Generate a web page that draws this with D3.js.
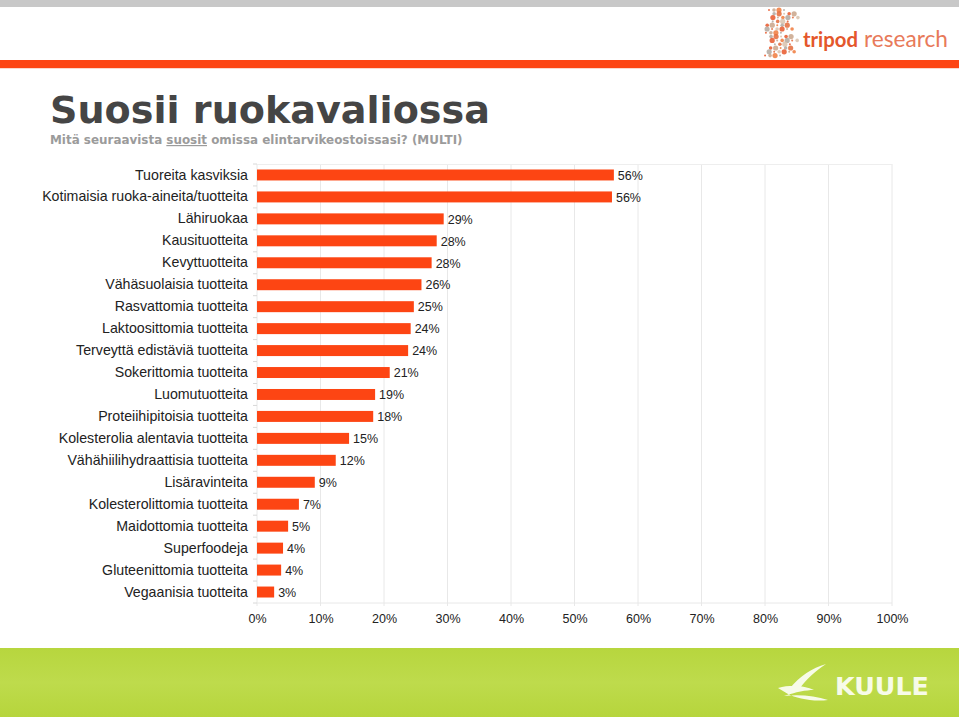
<!DOCTYPE html>
<html>
<head>
<meta charset="utf-8">
<script src="https://cdn.jsdelivr.net/npm/d3@7"></script>
<style>
  html, body { margin: 0; padding: 0; background: #fff; }
  svg { display: block; }
</style>
</head>
<body>
<svg id="chart" width="959" height="719"></svg>
<script>
const categories = [
  "Tuoreita kasviksia",
  "Kotimaisia ruoka-aineita/tuotteita",
  "Lähiruokaa",
  "Kausituotteita",
  "Kevyttuotteita",
  "Vähäsuolaisia tuotteita",
  "Rasvattomia tuotteita",
  "Laktoosittomia tuotteita",
  "Terveyttä edistäviä tuotteita",
  "Sokerittomia tuotteita",
  "Luomutuotteita",
  "Proteiihipitoisia tuotteita",
  "Kolesterolia alentavia tuotteita",
  "Vähähiilihydraattisia tuotteita",
  "Lisäravinteita",
  "Kolesterolittomia tuotteita",
  "Maidottomia tuotteita",
  "Superfoodeja",
  "Gluteenittomia tuotteita",
  "Vegaanisia tuotteita"
];
const values = [56.2, 55.9, 29.4, 28.3, 27.5, 25.9, 24.7, 24.2, 23.8, 20.9, 18.6, 18.3, 14.5, 12.4, 9.1, 6.6, 4.9, 4.1, 3.8, 2.7];
const valueLabels = ["56%", "56%", "29%", "28%", "28%", "26%", "25%", "24%", "24%", "21%", "19%", "18%", "15%", "12%", "9%", "7%", "5%", "4%", "4%", "3%"];
const xTicks = [0, 10, 20, 30, 40, 50, 60, 70, 80, 90, 100];

const svg = d3.select("#chart");
const W = 959, H = 719;

// scale a text's font size so its width matches a target
function fitWidth(sel, target) {
  const node = sel.node();
  const fs = parseFloat(sel.attr("font-size"));
  const w = node.getComputedTextLength();
  if (w > 0) sel.attr("font-size", (fs * target / w).toFixed(2));
  return sel;
}

// ---------- header ----------
svg.append("rect").attr("x", 0).attr("y", 0).attr("width", W).attr("height", 7).attr("fill", "#c8c8c8");
svg.append("rect").attr("x", 0).attr("y", 60).attr("width", W).attr("height", 8).attr("fill", "#fd4513");
svg.append("rect").attr("x", 0).attr("y", 68).attr("width", W).attr("height", 1).attr("fill", "#fbd8cc");

// tripod logo dots (decorative)
const logo = svg.append("g");
const dotCols = ["#e8572a", "#c9a58a", "#f07a3c", "#b0a8a0", "#e36a3a", "#d9c2ad"];
for (let r = 0; r < 13; r++) {
  const rowY = 10 + r * 3.8;
  const off = Math.sin(r * 0.9) * 4;
  const n = 4 + (r % 3);
  for (let c = 0; c < n; c++) {
    const cx = 769 + off + c * 5 + (r % 2) * 2;
    const rad = 1 + ((r + c) % 3) * 0.8;
    logo.append("circle").attr("cx", cx).attr("cy", rowY).attr("r", rad)
      .attr("fill", dotCols[(r * 3 + c) % dotCols.length]).attr("opacity", 0.85);
  }
}
const tri = logo.append("text").attr("x", 803).attr("y", 47)
  .attr("font-family", "Lato, 'Open Sans', sans-serif").attr("font-size", 22)
  .attr("font-weight", "bold").attr("fill", "#e4572b").text("tripod");
fitWidth(tri, 55);
const res = logo.append("text").attr("x", 864).attr("y", 47)
  .attr("font-family", "Lato, 'Open Sans', sans-serif").attr("font-size", 22)
  .attr("fill", "#e87a5a").text("research");
fitWidth(res, 84);

// title
const title = svg.append("text").attr("x", 50).attr("y", 123)
  .attr("font-family", "'DejaVu Sans', Verdana, sans-serif").attr("font-weight", "bold")
  .attr("font-size", 41).attr("fill", "#454545")
  .text("Suosii ruokavaliossa");
fitWidth(title, 440);

const sub = svg.append("text").attr("x", 50).attr("y", 144)
  .attr("font-family", "'DejaVu Sans', Verdana, sans-serif").attr("font-weight", "bold")
  .attr("font-size", 13).attr("fill", "#9b9b9b");
sub.append("tspan").text("Mitä seuraavista ");
sub.append("tspan").attr("text-decoration", "underline").text("suosit");
sub.append("tspan").text(" omissa elintarvikeostoissasi? (MULTI)");
fitWidth(sub, 413);

// ---------- chart ----------
const pLeft = 257, pRight = 892, pTop = 164, pBottom = 603;
const x = d3.scaleLinear().domain([0, 100]).range([pLeft, pRight]);
const y = d3.scaleBand().domain(categories).range([pTop, pBottom]).paddingInner(0.5).paddingOuter(0.25);

const grid = svg.append("g");
grid.selectAll("line.g").data(xTicks).enter().append("line")
  .attr("x1", d => x(d)).attr("x2", d => x(d))
  .attr("y1", pTop).attr("y2", pBottom + 3)
  .attr("stroke", "#e8e8e8").attr("stroke-width", 1);
grid.append("line").attr("x1", pLeft).attr("x2", pRight).attr("y1", pTop + 0.5).attr("y2", pTop + 0.5)
  .attr("stroke", "#eeeeee");
grid.append("line").attr("x1", pLeft).attr("x2", pRight).attr("y1", pBottom).attr("y2", pBottom)
  .attr("stroke", "#e8e8e8");

// category boundary ticks
const bounds = d3.range(categories.length + 1).map(i => pTop + i * (pBottom - pTop) / categories.length);
grid.selectAll("line.t").data(bounds).enter().append("line")
  .attr("x1", pLeft - 4).attr("x2", pLeft)
  .attr("y1", d => d).attr("y2", d => d)
  .attr("stroke", "#d8d8d8");

// x axis labels
const xAxis = d3.axisBottom(x).tickValues(xTicks).tickFormat(d => d + "%").tickSize(0).tickPadding(11);
const gx = svg.append("g").attr("transform", `translate(0,${pBottom})`).call(xAxis);
gx.select(".domain").remove();
gx.selectAll("text").attr("font-family", "'Liberation Sans', Arial, sans-serif")
  .attr("font-size", 12.5).attr("fill", "#222");

// y axis labels
const yAxis = d3.axisLeft(y).tickSize(0).tickPadding(9);
const gy = svg.append("g").attr("transform", `translate(${pLeft},0)`).call(yAxis);
gy.select(".domain").remove();
gy.selectAll("text").attr("font-family", "'Liberation Sans', Arial, sans-serif")
  .attr("font-size", 14.2).attr("fill", "#222");

// bars
svg.append("g").selectAll("rect").data(values).enter().append("rect")
  .attr("x", x(0))
  .attr("y", (d, i) => y(categories[i]))
  .attr("width", d => x(d) - x(0))
  .attr("height", y.bandwidth())
  .attr("fill", "#fd4513");

// value labels
svg.append("g").selectAll("text").data(values).enter().append("text")
  .attr("x", d => x(d) + 4)
  .attr("y", (d, i) => y(categories[i]) + y.bandwidth() / 2)
  .attr("dy", "0.38em")
  .attr("font-family", "'Liberation Sans', Arial, sans-serif")
  .attr("font-size", 12.5).attr("fill", "#222")
  .text((d, i) => valueLabels[i]);

// ---------- footer ----------
const defs = svg.append("defs");
const lg = defs.append("linearGradient").attr("id", "grn").attr("x1", 0).attr("x2", 0).attr("y1", 0).attr("y2", 1);
lg.append("stop").attr("offset", "0").attr("stop-color", "#b7d63e");
lg.append("stop").attr("offset", "0.5").attr("stop-color", "#bedb4c");
lg.append("stop").attr("offset", "1").attr("stop-color", "#b6d53c");
svg.append("rect").attr("x", 0).attr("y", 648).attr("width", W).attr("height", 69).attr("fill", "url(#grn)");

// Kuule logo
svg.append("path")
  .attr("d", "M778,688 C792,684 805,686 814,690 C806,690 796,692 784,696 C800,694 815,696 828,700 C812,702 796,698 788,694 Z M790,688 C800,676 812,668 826,664 C814,672 806,680 800,688 Z")
  .attr("fill", "#f7fbe8");
const kuule = svg.append("text").attr("x", 835).attr("y", 695)
  .attr("font-family", "'DejaVu Sans', sans-serif").attr("font-weight", "bold")
  .attr("font-size", 24).attr("fill", "#f7fbe8")
  .text("KUULE");
fitWidth(kuule, 94);
</script>
</body>
</html>
